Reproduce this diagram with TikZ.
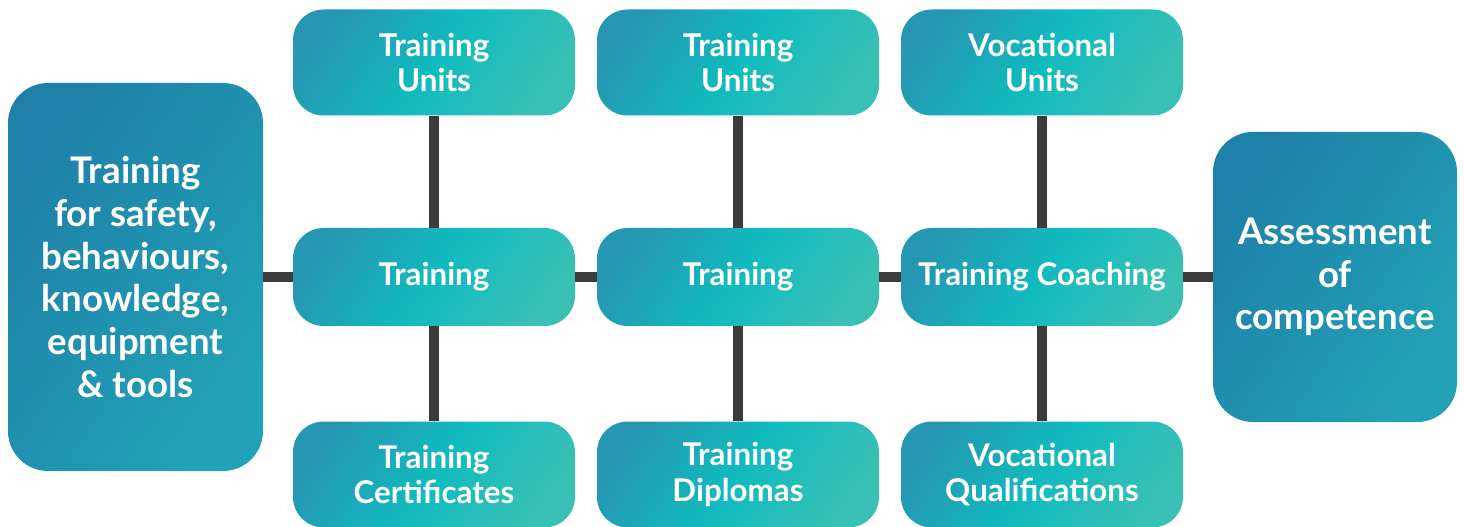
\documentclass[tikz,border=0pt]{standalone}
\usepackage{fontspec}
\setmainfont{Lato}
\usetikzlibrary{positioning}

\definecolor{tealA}{HTML}{2597B2}
\definecolor{tealB}{HTML}{10BBBF}
\definecolor{tealC}{HTML}{38C0B5}
\definecolor{deepA}{HTML}{1E80A8}
\definecolor{deepB}{HTML}{22A2B6}
\definecolor{linegrey}{HTML}{3C3C3C}

\pgfdeclarehorizontalshading{tealfade}{100bp}{color(0bp)=(tealA); color(25bp)=(tealA); color(50bp)=(tealB); color(75bp)=(tealC); color(100bp)=(tealC)}
\pgfdeclarehorizontalshading{deepfade}{100bp}{color(0bp)=(deepA); color(25bp)=(deepA); color(75bp)=(deepB); color(100bp)=(deepB)}

\begin{document}
\begin{tikzpicture}[x=0.75pt,y=-0.75pt,
                    stepbox/.style={shading=tealfade,shading angle=-35,rounded corners=23pt,
                                    text=white,align=center,inner sep=0,
                                    minimum width=211.5pt,font=\fontsize{23.5}{26.5}\selectfont\bfseries},
                    outer/.style={shading=deepfade,shading angle=-35,rounded corners=30pt,
                                  text=white,align=center,inner sep=0,
                                  font=\fontsize{27.5}{32}\selectfont\bfseries},
                    link/.style={draw=linegrey,line width=7.5pt}
        ]
    \useasboundingbox (0,0) rectangle (1464,527);
    % start and end
    \node[outer,minimum width=191.25pt,minimum height=291pt] (safety) at (135.5,277)
        {Training\\for safety,\\behaviours,\\knowledge,\\equipment\\\& tools};
    \node[outer,minimum width=183pt,minimum height=217.5pt] (assess) at (1335,277)
        {Assessment\\of\\competence};
    % middle row
    \node[stepbox,minimum height=73.5pt] (train1) at (434,277) {Training};
    \node[stepbox,minimum height=73.5pt] (train2) at (738,277) {Training};
    \node[stepbox,minimum height=73.5pt] (coach) at (1042,277) {Training Coaching};
    % top row
    \node[stepbox,minimum height=79.5pt] (units1) at (434,62.5) {Training\\Units};
    \node[stepbox,minimum height=79.5pt] (units2) at (738,62.5) {Training\\Units};
    \node[stepbox,minimum height=79.5pt] (vunits) at (1042,62.5) {Vocational\\Units};
    % bottom row
    \node[stepbox,minimum height=79.5pt] (cert) at (434,474.5) {Training\\Certificates};
    \node[stepbox,minimum height=79.5pt] (dipl) at (738,474.5) {Training\\Diplomas};
    \node[stepbox,minimum height=79.5pt] (quals) at (1042,474.5) {Vocational\\Qualifications};

    \path[link]
        (safety) -- (train1)
        (train1) -- (train2)
        (train2) -- (coach)
        (coach) -- (assess)
        (units1) -- (train1)
        (train1) -- (cert)
        (units2) -- (train2)
        (train2) -- (dipl)
        (vunits) -- (coach)
        (coach) -- (quals);
\end{tikzpicture}
\end{document}
